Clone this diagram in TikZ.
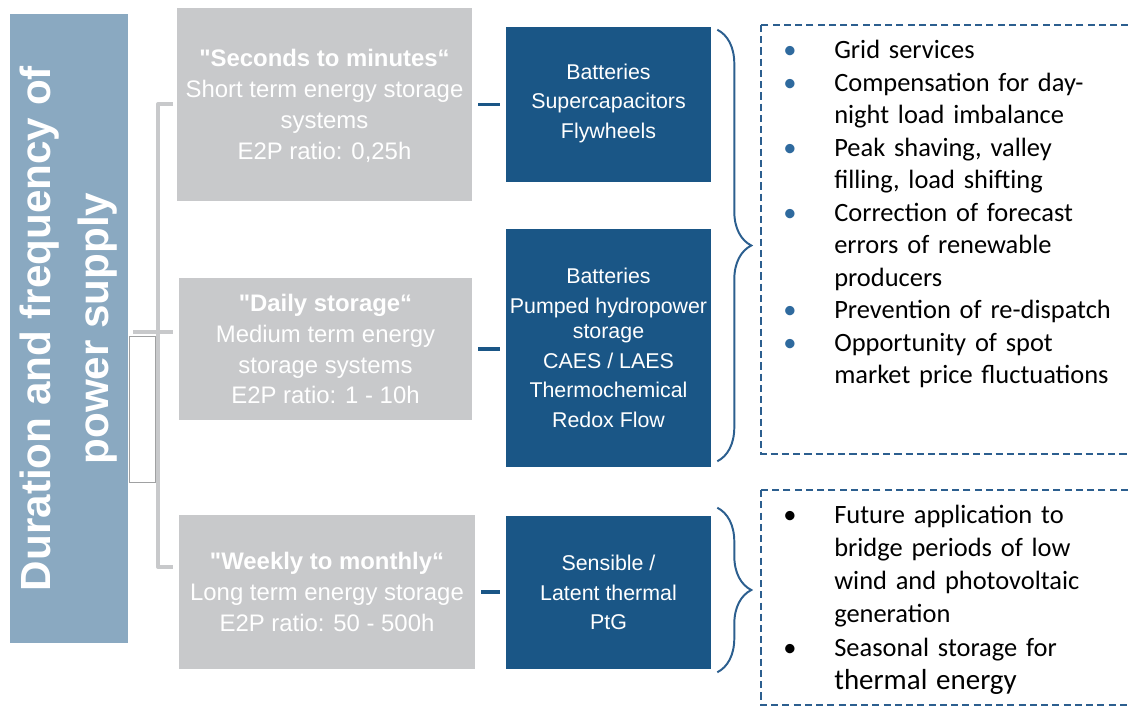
\documentclass[tikz,border=0pt]{standalone}
\usepackage{fontspec}
\setmainfont{Liberation Sans}
\newfontfamily\carlito{Carlito}
\usetikzlibrary{decorations.pathreplacing}

\definecolor{barblue}{HTML}{8AA9C1}
\definecolor{boxgrey}{HTML}{C8C9CB}
\definecolor{boxblue}{HTML}{1A5686}
\definecolor{braceblue}{HTML}{2C5F8F}
\definecolor{dotblue}{HTML}{2F6A9E}

\begin{document}
\begin{tikzpicture}[x=0.025cm, y=-0.025cm,
  greybox/.style={fill=boxgrey, text=white, align=center, inner sep=0pt,
    font=\fontsize{17}{22}\selectfont},
  bluebox/.style={fill=boxblue, text=white, align=center, inner sep=0pt,
    font=\fontsize{15.2}{21}\selectfont},
  link/.style={draw=boxblue, line width=2.8pt},
  bracket/.style={draw=boxgrey, line width=2.8pt, line join=round},
  curly/.style={draw=braceblue, line width=1.4pt,
    decorate, decoration={brace, amplitude=0.85cm}},
  dashbox/.style={draw=braceblue, line width=1.3pt, dash pattern=on 5pt off 3pt},
  dot/.style={anchor=base, inner sep=0pt, font=\carlito\fontsize{18.8}{23.1}\selectfont},
  usetext/.style={anchor=base west, inner sep=0pt, text width=7.5cm, align=left,
    font=\carlito\fontsize{18.8}{23.1}\selectfont},
  usetextb/.style={usetext, font=\carlito\fontsize{18.8}{23.7}\selectfont}]

% --- sizes ---
\def\pix{0.025cm}  % one pixel of the original

% Helper: one box: name, centre, width, height, style, text
\newcommand{\tierbox}[6]{%
  \node[#5, minimum width=#3*\pix, minimum height=#4*\pix] (#1) at #2 {#6};
}
% Helper: one bullet: name, baseline, bullet colour, style, text
\newcommand{\usecase}[5]{%
  \node[dot, text=#3] (#1dot) at (790,#2) {\textbullet};
  \node[#4] (#1) at (834,#2) {#5};
}

\useasboundingbox (0,0) rectangle (1128,707);
\clip (0,0) rectangle (1128,707);

% Title bar
\node[fill=barblue, text=white, rotate=90, inner sep=0pt, align=center,
  minimum width=629*\pix, minimum height=118*\pix,
  font=\bfseries\fontsize{30}{41.3}\selectfont] (title) at (69,328.5)
  {Duration and frequency of\\power supply};

% Grey bracket
\draw[bracket] (173,104) -- (158,104) -- (158,567) -- (173,567);
\draw[bracket] (133,332) -- (173,332);
\draw[draw=boxgrey!80!black, line width=0.4pt, fill=white] (129,336) rectangle (155,482);

% Duration boxes
\tierbox{g1}{(324.5,104.5)}{295}{193}{greybox}{\\[-8pt]{\bfseries \textquotedbl Seconds to minutes“}\\Short term energy storage\\systems\\E2P ratio: 0,25h}
\tierbox{g2}{(325.5,349)}{293}{142}{greybox}{{\bfseries \textquotedbl Daily storage“}\\Medium term energy\\storage systems\\E2P ratio: 1 - 10h}
\tierbox{g3}{(327,592)}{296}{154}{greybox}{{\bfseries \textquotedbl Weekly to monthly“}\\Long term energy storage\\E2P ratio: 50 - 500h}

% Technology boxes
\tierbox{b1}{(608.5,104.5)}{205}{155}{bluebox}{\\[-12pt]Batteries\\Supercapacitors\\Flywheels}
\tierbox{b2}{(608.5,348)}{205}{238}{bluebox}{Batteries\\Pumped hydropower\\[-3pt]storage\\CAES / LAES\\Thermochemical\\Redox Flow}
\tierbox{b3}{(608.5,592.5)}{205}{153}{bluebox}{Sensible /\\Latent thermal\\PtG}

% Links
\draw[link] ([xshift=6*\pix]g1.east) -- ([xshift=-6*\pix]g1.east -| b1.west);
\draw[link] ([xshift=6*\pix]g2.east) -- ([xshift=-6*\pix]g2.east -| b2.west);
\draw[link] ([xshift=6*\pix]g3.east) -- ([xshift=-6*\pix]g3.east -| b3.west);

% Braces
\draw[curly] ([shift={(6,3)}]b1.north east) -- ([shift={(6,-6)}]b2.south east);
\draw[curly] ([shift={(6,-8)}]b3.north east) -- ([shift={(6,3)}]b3.south east);

% Applications
\draw[dashbox] (761,25) rectangle (1140,454);
\draw[dashbox] (761,490) rectangle (1140,705);

\usecase{u1}{59}{dotblue}{usetext}{Grid services}
\usecase{u2}{91.45}{dotblue}{usetext}{Compensation for day-\\night load imbalance}
\usecase{u3}{156.35}{dotblue}{usetext}{Peak shaving, valley\\filling, load shifting}
\usecase{u4}{221.25}{dotblue}{usetext}{Correction of forecast\\errors of renewable\\producers}
\usecase{u5}{318.6}{dotblue}{usetext}{Prevention of re-dispatch}
\usecase{u6}{351.05}{dotblue}{usetext}{Opportunity of spot\\market price fluctuations}

\usecase{v1}{523}{black}{usetextb}{Future application to\\bridge periods of low\\wind and photovoltaic\\generation}
\usecase{v2}{656}{black}{usetextb}{Seasonal storage for\\{\fontsize{20.6}{23.7}\selectfont thermal energy}}

\end{tikzpicture}
\end{document}
